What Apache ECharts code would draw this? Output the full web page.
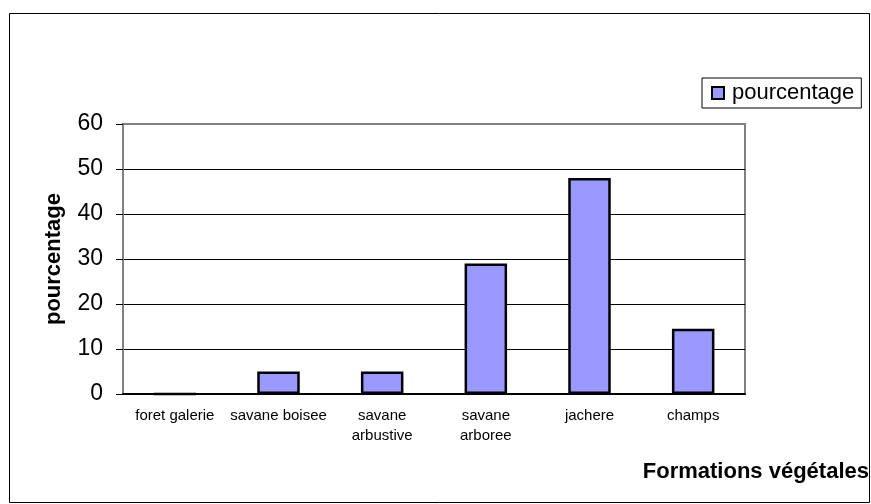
<!DOCTYPE html>
<html>
<head>
<meta charset="utf-8">
<script src="https://cdn.jsdelivr.net/npm/echarts@6/dist/echarts.min.js"></script>
<style>
  html, body { margin: 0; padding: 0; background: #fff; }
  #chart { width: 871px; height: 504px; }
</style>
</head>
<body>
<div id="chart"></div>
<script>
  // données
  var formations = ['foret galerie', 'savane boisee', 'savane\narbustive', 'savane\narboree', 'jachere', 'champs'];
  var pourcentage = [0, 5, 5, 29, 48, 14.5];
  var yTicks = { min: 0, max: 60, interval: 10 };

  var chart = echarts.init(document.getElementById('chart'));
  var font = 'Liberation Sans, Arial, sans-serif';

  var option = {
    backgroundColor: '#fff',
    animation: false,
    textStyle: { fontFamily: font },
    title: {
      text: 'Formations végétales',
      right: 2,
      top: 461,
      padding: 0,
      textStyle: { fontFamily: font, fontSize: 22, fontWeight: 'bold', color: '#000' }
    },
    graphic: [{
      type: 'rect',
      shape: { x: 9.5, y: 13.5, width: 860, height: 489 },
      style: { fill: 'none', stroke: '#000', lineWidth: 1 },
      silent: true
    }],
    legend: {
      left: 702,
      top: 78,
      padding: [4, 7, 4, 9],
      borderColor: '#000',
      borderWidth: 1,
      itemWidth: 12,
      itemHeight: 12,
      icon: 'rect',
      textStyle: { fontFamily: font, fontSize: 22, color: '#000', padding: [0, 0, 0, 3] },
      data: ['pourcentage']
    },
    grid: {
      left: 123,
      top: 124,
      width: 622,
      height: 270,
      show: true,
      borderColor: '#808080',
      borderWidth: 2,
      backgroundColor: '#fff'
    },
    xAxis: {
      type: 'category',
      data: formations,
      axisLine: { lineStyle: { color: '#000', width: 2 } },
      axisTick: { length: 5, lineStyle: { color: '#000' } },
      axisLabel: { color: '#000', fontSize: 15, margin: 12, lineHeight: 20, interval: 0 }
    },
    yAxis: {
      type: 'value',
      min: yTicks.min,
      max: yTicks.max,
      interval: yTicks.interval,
      name: 'pourcentage',
      nameLocation: 'middle',
      nameRotate: 90,
      nameGap: 58,
      nameTextStyle: { fontFamily: font, fontSize: 22, fontWeight: 'bold', color: '#000' },
      axisLine: { show: true, lineStyle: { color: '#808080', width: 2 } },
      axisTick: { show: true, length: 7, lineStyle: { color: '#000' } },
      axisLabel: { color: '#000', fontSize: 23, margin: 20 },
      splitLine: {
        lineStyle: {
          color: ['#000', '#000', '#000', '#000', '#000', '#000', '#808080'],
          width: 1
        }
      }
    },
    series: [{
      name: 'pourcentage',
      type: 'bar',
      data: pourcentage,
      barWidth: '41%',
      itemStyle: { color: '#9999FF', borderColor: '#000', borderWidth: 2.5 }
    }]
  };
  chart.setOption(option);
  window.addEventListener('resize', function () {
    chart.resize();
  });
</script>
</body>
</html>
